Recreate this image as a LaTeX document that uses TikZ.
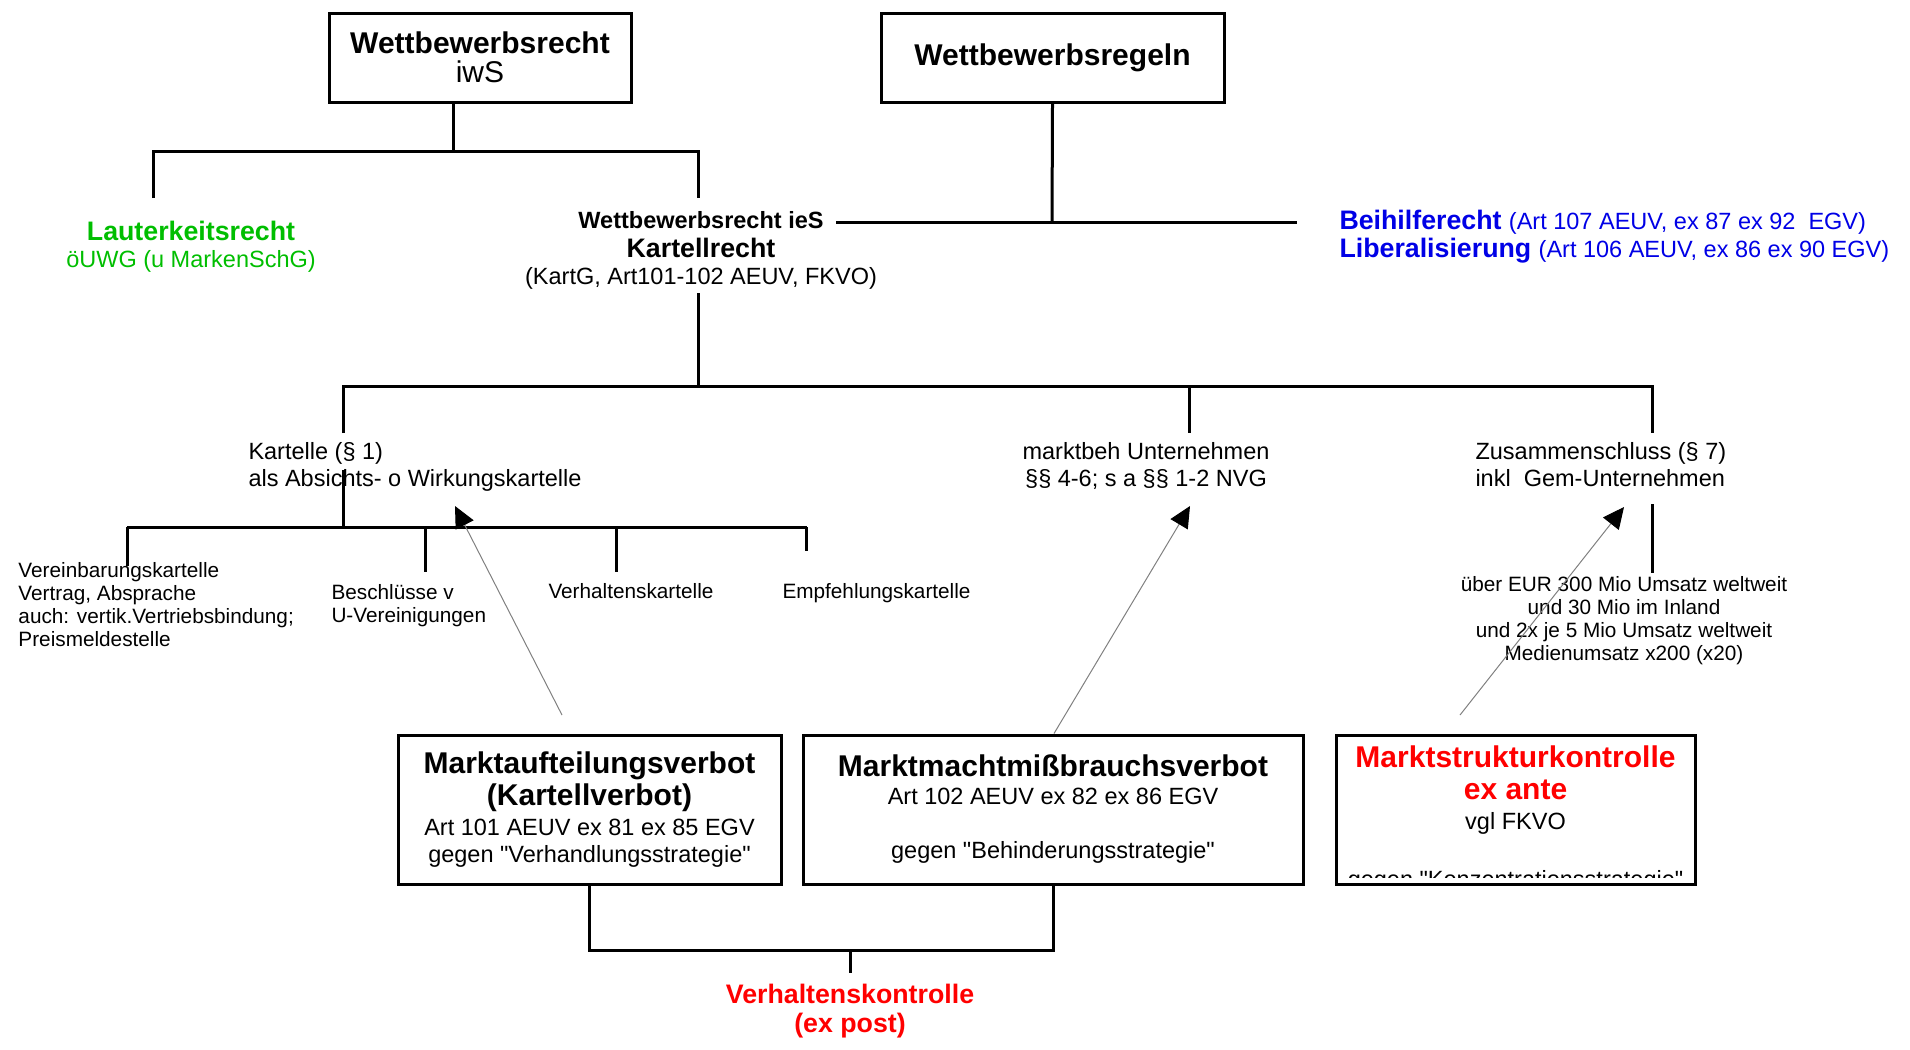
\documentclass[tikz,border=0pt]{standalone}
\usepackage{fontspec}
\setmainfont{Liberation Sans}[Ligatures=TeXOff]
\usepackage{xcolor}
\usepackage{tikz}
\usetikzlibrary{arrows.meta}
\definecolor{lawgreen}{RGB}{0, 190, 0}
\definecolor{lawblue}{RGB}{0, 0, 230}
\definecolor{lawred}{RGB}{255, 0, 0}
\newcommand{\bigbf}{\fontsize{12}{12.8}\selectfont\bfseries}
\newcommand{\bigrm}{\fontsize{12}{11.6}\selectfont\mdseries}
\newcommand{\midbf}{\fontsize{10.7}{11.4}\selectfont\bfseries}
\newcommand{\normtx}{\fontsize{9.4}{10.8}\selectfont\mdseries}
\newcommand{\smalltx}{\fontsize{8.3}{9.2}\selectfont\mdseries}

\begin{document}
\begin{tikzpicture}[x=0.4pt, y=-0.4pt,
    tree/.style={line width=1.2pt},
    lawbox/.style={draw, line width=1.2pt, inner sep=0pt, align=center, minimum height=59.6pt},
    plain/.style={inner sep=0pt, align=center},
    hint/.style={draw=gray, line width=0.4pt, -{Triangle[length=8.5pt, width=8pt, color=black]}}]
    \useasboundingbox (0,0) rectangle (1910,1049);

    % top boxes
    \node[lawbox, minimum width=120.8pt, minimum height=35.6pt, font=\bigbf] (iws) at (480,57.5)
        {Wettbewerbsrecht\\[-1.2pt] \bigrm iwS};
    \node[lawbox, minimum width=137.2pt, minimum height=35.6pt, font=\bigbf] (regeln) at (1052.5,57.5)
        {Wettbewerbsregeln};

    % second row
    \node[plain, text=lawgreen, font=\normtx] (lauter) at (191,246.5)
        {\midbf Lauterkeitsrecht\\ öUWG (u MarkenSchG)};
    \node[plain, font=\normtx] (kartrecht) at (701,250.5)
        {\bfseries Wettbewerbsrecht ieS\\[0.6pt] \midbf Kartellrecht\\ (KartG, Art101-102 AEUV, FKVO)};
    \node[plain, anchor=west, align=left, text=lawblue, font=\midbf] (beihilfe) at (1339,236.5)
        {Beihilferecht {\normtx (Art 107 AEUV, ex 87 ex 92\ \ EGV)}\\
         Liberalisierung {\normtx (Art 106 AEUV, ex 86 ex 90 EGV)}};

    % third row
    \node[plain, anchor=west, align=left, font=\normtx] (kartelle) at (248,466.5)
        {Kartelle (§ 1)\\ als Absichts- o Wirkungskartelle};
    \node[plain, font=\normtx] (marktbeh) at (1146,466)
        {marktbeh Unternehmen\\ §§ 4-6; s a §§ 1-2 NVG};
    \node[plain, anchor=west, align=left, font=\normtx] (zusammen) at (1475,465)
        {Zusammenschluss (§ 7)\\ inkl\ \ Gem-Unternehmen};
    \node[plain, font=\smalltx] (schwelle) at (1624,620.5)
        {über EUR 300 Mio Umsatz weltweit\\ und 30 Mio im Inland\\
         und 2x je 5 Mio Umsatz weltweit\\ Medienumsatz x200 (x20)};

    % kinds of cartels
    \node[plain, anchor=west, align=left, font=\smalltx] (vereinb) at (18,604.5)
        {Vereinbarungskartelle\\ Vertrag, Absprache\\ auch: vertik.Vertriebsbindung;\\ Preismeldestelle};
    \node[plain, anchor=west, align=left, font=\smalltx] (beschl) at (331,605.5)
        {Beschlüsse v\\ U-Vereinigungen};
    \node[plain, anchor=base west, font=\smalltx] (verhk) at (548,598.5) {Verhaltenskartelle};
    \node[plain, anchor=base west, font=\smalltx] (empf) at (782,598.5) {Empfehlungskartelle};

    % bottom boxes
    \node[lawbox, minimum width=153.2pt, font=\bigbf] (mav) at (589.5,809.5)
        {Marktaufteilungsverbot\\ (Kartellverbot)\\[-0.8pt] \normtx Art 101 AEUV ex 81 ex 85 EGV\\[-2pt] \normtx gegen "Verhandlungsstrategie"};
    \node[lawbox, minimum width=200pt, font=\normtx] (mmv) at (1053,809.5)
        {\bigbf Marktmachtmißbrauchsverbot\\[0.4pt] Art 102 AEUV ex 82 ex 86 EGV\\[10.8pt] gegen "Behinderungsstrategie"};
    \node[lawbox, minimum width=143.6pt] (msk) at (1515.5,809.5) {};
    \begin{scope}
        \clip (1336,735) rectangle (1695,877);
        \node[plain, anchor=north, font=\bigbf, text=lawred] (msktext) at (1515.5,745)
            {Marktstrukturkontrolle\\ ex ante\\[-0.8pt] \normtx\color{black} vgl FKVO\\[10.4pt] \normtx\color{black} gegen "Konzentrationsstrategie"};
    \end{scope}
    \node[plain, text=lawred, font=\midbf] (verhalten) at (850,1011)
        {Verhaltenskontrolle\\[0.4pt] (ex post)};

    % tree lines
    \coordinate (jtop) at (453,151);
    \coordinate (jkart) at (698,386);
    \coordinate (jsub) at (343,527);
    \coordinate (jbot) at (850,950);
    \draw[tree] (iws.south -| jtop) -- (jtop);
    \draw[tree] (153,198) |- (698,151) -- (698,198);
    \draw[tree] (698,293) -- (jkart);
    \draw[tree] (343,433) |- (1652,386) -- (1652,433);
    \draw[tree] (1189,386) -- (1189,433);
    \draw[tree] (regeln.south) -- (1052,222);
    \draw[tree] (836,222) -- (1297,222);
    \draw[tree] (343,470) -- (jsub);
    \draw[tree] (127,527) -- (807,527);
    \foreach \x/\y in {127/566, 425/572, 616/572, 806/551} {
        \draw[tree] (\x,527) -- (\x,\y);
    }
    \draw[tree] (1652,504) -- (1652,573);
    \draw[tree] (mav.south) |- (jbot) -| (mmv.south);
    \draw[tree] (jbot) -- (850,973);

    % arrows up to the groups
    \coordinate (tipk) at (455,506);
    \coordinate (tipm) at (1190,506);
    \coordinate (tipz) at (1624,507);
    \draw[hint] (562,715) -- (tipk);
    \draw[hint] (mmv.north) ++(1,0) -- (tipm);
    \draw[hint] (1460,715) -- (tipz);
\end{tikzpicture}
\end{document}
